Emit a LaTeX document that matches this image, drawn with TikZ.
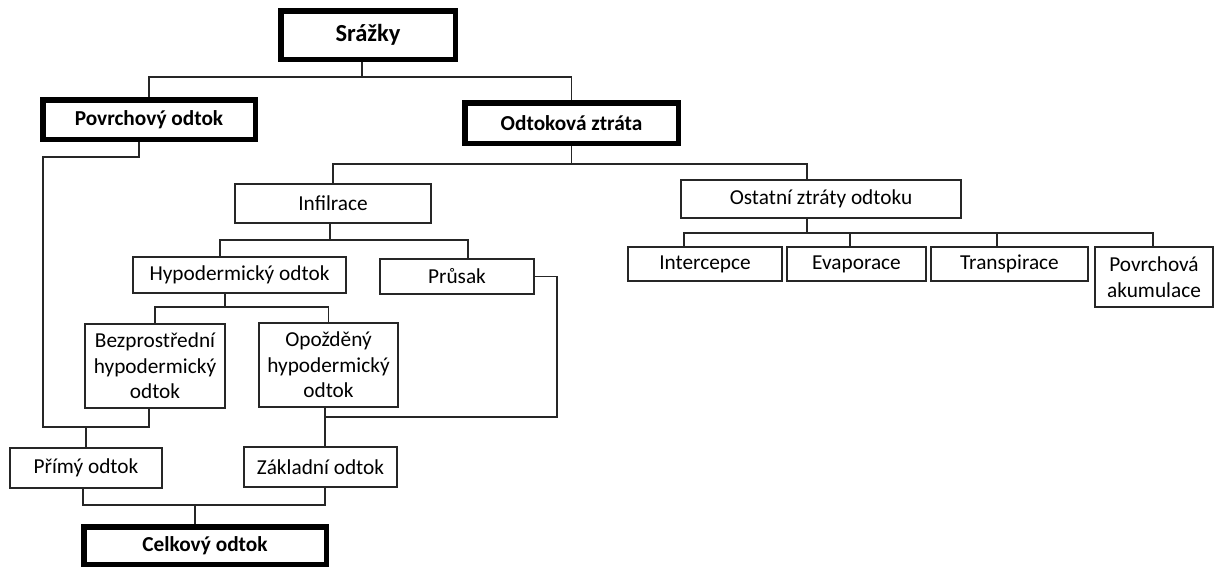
\documentclass[tikz,border=0pt]{standalone}
\usepackage{fontspec}
\setmainfont{Carlito}
\begin{document}
\begin{tikzpicture}[x=1pt,y=-1pt,
  box/.style={draw=black!85, line width=1.3pt, inner sep=0pt, align=center,
    font=\fontsize{21.3}{25.5}\selectfont},
  keybox/.style={draw=black, line width=5.5pt, inner sep=0pt, align=center,
    font=\fontsize{21.3}{25.5}\selectfont\bfseries},
  link/.style={draw=black!85, line width=1.3pt}]
\useasboundingbox (0,0) rectangle (1222,568);

% main levels
\node[keybox, minimum width=174.5pt, minimum height=48.5pt,
  font=\fontsize{24.5}{29}\selectfont\bfseries] (srazky) at (368,35) {Srážky};
\node[keybox, minimum width=212.5pt, minimum height=39.5pt] (povrch) at (149,119.5) {Povrchový odtok};
\node[keybox, minimum width=213.5pt, minimum height=40.5pt] (ztrata) at (571.5,123) {Odtoková ztráta};
\node[keybox, minimum width=242.5pt, minimum height=37.5pt] (celk) at (205,545.5) {Celkový odtok};

% losses
\node[box, minimum width=196pt, minimum height=39pt] (infil) at (333,203.5) {Infilrace};
\node[box, minimum width=280pt, minimum height=38pt] (ostat) at (821,199) {Ostatní ztráty odtoku};
\node[box, minimum width=213pt, minimum height=36pt] (hypo) at (239.5,275) {Hypodermický odtok};
\node[box, minimum width=154pt, minimum height=35pt] (prusak) at (457,276.5) {Průsak};
\node[box, minimum width=140pt, minimum height=84pt] (bezpr) at (155,366) {Bezprostřední\\hypodermický\\odtok};
\node[box, minimum width=139pt, minimum height=84pt] (opozd) at (328.5,365) {Opožděný\\hypodermický\\odtok};
\node[box, minimum width=152pt, minimum height=40pt] (primy) at (86,468) {Přímý odtok};
\node[box, minimum width=153pt, minimum height=40pt] (zakl) at (320.5,467) {Základní odtok};

\node[box, minimum width=154pt, minimum height=34pt] (interc) at (705,264) {Intercepce};
\node[box, minimum width=139pt, minimum height=34pt] (evap) at (856.5,264) {Evaporace};
\node[box, minimum width=157pt, minimum height=34pt] (transp) at (1009.5,264) {Transpirace};
\node[box, minimum width=118pt, minimum height=60pt] (akum) at (1154,277) {Povrchová\\akumulace};

% junction and corner points of the connector buses
\coordinate (b1) at (362,77);
\coordinate (b2) at (571.5,164);
\coordinate (b3) at (330,240);
\coordinate (b4) at (225,307);
\coordinate (b6) at (195,505);
\coordinate (b7) at (807,233);
\coordinate (k1) at (43,157);
\coordinate (jp) at (86,427);
\coordinate (k2) at (557,417);
\coordinate (jz) at (325,417);

% connectors
\draw[link] ([xshift=-6pt]srazky.south) -- (b1);
\draw[link] (povrch.north) |- (b1) -| (ztrata.north);

\draw[link] (ztrata.south) -- (b2);
\draw[link] (infil.north) |- (b2) -| ([xshift=-14pt]ostat.north);

\draw[link] ([xshift=-3pt]infil.south) -- (b3);
\draw[link] ([xshift=-19.5pt]hypo.north) |- (b3) -| ([xshift=11pt]prusak.north);

\draw[link] ([xshift=-14.5pt]hypo.south) -- (b4);
\draw[link] (bezpr.north) |- (b4) -| (opozd.north);

\draw[link] ([xshift=-10pt]povrch.south) |- (k1) |- (jp) -| ([xshift=-6pt]bezpr.south);
\draw[link] (jp) -- (primy.north);

\draw[link] (prusak.east) -| (k2) -- (jz);
\draw[link] ([xshift=-3.5pt]opozd.south) -- ([xshift=4.5pt]zakl.north);

\draw[link] ([xshift=-3pt]primy.south) |- (b6) -| ([xshift=4.5pt]zakl.south);
\draw[link] (b6) -- ([xshift=-10pt]celk.north);

\draw[link] ([xshift=-14pt]ostat.south) -- (b7);
\draw[link] ([xshift=-21pt]interc.north) |- (b7) -| ([xshift=-1pt]akum.north);
\draw[link] ([xshift=-6.5pt]evap.north) -- ++(0,-14);
\draw[link] ([xshift=-12.5pt]transp.north) -- ++(0,-14);
\end{tikzpicture}
\end{document}
